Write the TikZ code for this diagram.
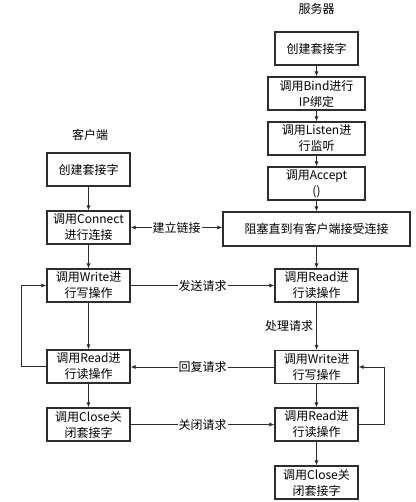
\documentclass[tikz,border=0pt]{standalone}
\usepackage{fontspec}
\usepackage{tikz}
\usetikzlibrary{arrows.meta}
\newfontfamily\cjk{Noto Sans CJK SC}
\definecolor{lineGray}{RGB}{45,45,45}

\begin{document}
\begin{tikzpicture}[
  x=1pt, y=-1pt,
  box/.style={draw=lineGray, line width=1.1pt, minimum width=83, minimum height=33,
    inner sep=0pt, align=center, font=\cjk\fontsize{12}{16}\selectfont},
  wbox/.style={box, minimum width=97},
  lbl/.style={font=\cjk\fontsize{12}{16}\selectfont, fill=white, inner sep=1pt},
  arr/.style={draw=lineGray, line width=0.8pt, -{Latex[length=5pt,width=4pt]}},
]
  \useasboundingbox (0,0) rectangle (415,502);

  % server side
  \node[lbl] (server) at (316.5,9) {服务器};
  \node[box]  (s1) at (316.5,48.5) {创建套接字};
  \node[wbox] (s2) at (316.5,93.5) {调用Bind进行\\IP绑定};
  \node[wbox] (s3) at (316.5,138.5) {调用Listen进\\行监听};
  \node[wbox] (s4) at (316.5,183.5) {调用Accept\\()};
  \node[box, minimum width=187, minimum height=34] (s5) at (316.5,229) {阻塞直到有客户端接受连接};
  \node[box]  (s6) at (316.5,285.5) {调用Read进\\行读操作};
  \node[box]  (s7) at (316.5,367) {调用Write进\\行写操作};
  \node[box]  (s8) at (316.5,424.5) {调用Read进\\行读操作};
  \node[box]  (s9) at (316.5,482.5) {调用Close关\\闭套接字};

  % client side
  \node[lbl] (client) at (90,135) {客户端};
  \node[box] (c1) at (88.5,169.5) {创建套接字};
  \node[box] (c2) at (88.5,227.5) {调用Connect\\进行连接};
  \node[box] (c3) at (88.5,285.5) {调用Write进\\行写操作};
  \node[box] (c4) at (88.5,366.5) {调用Read进\\行读操作};
  \node[box] (c5) at (88.5,424.5) {调用Close关\\闭套接字};

  \draw[arr] (s1) -- (s2);
  \draw[arr] (s2) -- (s3);
  \draw[arr] (s3) -- (s4);
  \draw[arr] (s4) -- (s5);
  \draw[arr] (s5) -- (s6);
  \draw[arr] (s6) -- node[lbl, anchor=east, xshift=-2pt] {处理请求} (s7);
  \draw[arr] (s7) -- (s8);
  \draw[arr] (s8) -- (s9);
  \draw[arr] (s8.east) -- ++(26,0) |- (s7.east);

  \draw[arr] (c1) -- (c2);
  \draw[arr] (c2) -- (c3);
  \draw[arr] (c3) -- (c4);
  \draw[arr] (c4) -- (c5);
  \draw[arr] (c4.west) -- ++(-25,0) |- (c3.west);

  \draw[arr, {Latex[length=5pt,width=4pt]}-{Latex[length=5pt,width=4pt]}] (c2.east) -- node[lbl] {建立链接} (s5.west |- c2.east);
  \draw[arr] (c3.east) -- node[lbl] {发送请求} (s6.west);
  \draw[arr] (s7.west) -- node[lbl] {回复请求} (c4.east |- s7.west);
  \draw[arr] (c5.east) -- node[lbl] {关闭请求} (s8.west);
\end{tikzpicture}
\end{document}
